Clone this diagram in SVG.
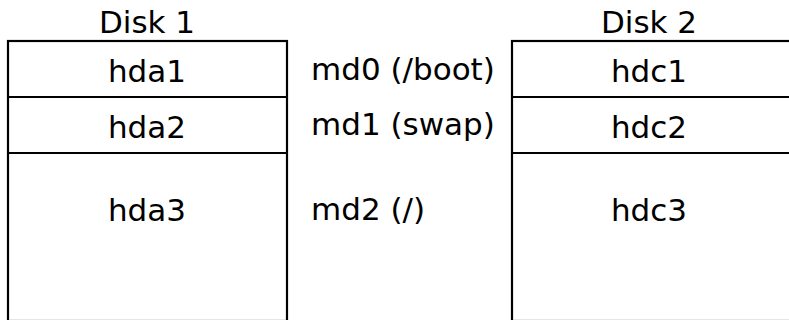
<svg xmlns="http://www.w3.org/2000/svg" width="789" height="320" viewBox="0 0 789 320">
<style>
.box{fill:#fff;stroke:#000;stroke-width:2.2}
.ln{stroke:#000;stroke-width:2.2;fill:none}
text{font-family:"DejaVu Sans",sans-serif;font-size:31px;fill:#000}
.c{text-anchor:middle}
</style>
<rect width="789" height="320" fill="#fff"/>
<g id="disk1">
<text class="c" x="147" y="33">Disk 1</text>
<rect class="box" x="8" y="41" width="279" height="280"/>
<line class="ln" x1="8" y1="97" x2="287" y2="97"/>
<line class="ln" x1="8" y1="153" x2="287" y2="153"/>
<text class="c" x="147" y="82">hda1</text>
<text class="c" x="147" y="138">hda2</text>
<text class="c" x="147" y="221">hda3</text>
</g>
<g id="disk2">
<text class="c" x="649" y="33">Disk 2</text>
<rect class="box" x="512" y="41" width="279" height="280"/>
<line class="ln" x1="512" y1="97" x2="791" y2="97"/>
<line class="ln" x1="512" y1="153" x2="791" y2="153"/>
<text class="c" x="649" y="82">hdc1</text>
<text class="c" x="649" y="138">hdc2</text>
<text class="c" x="649" y="221">hdc3</text>
</g>
<g id="labels">
<text x="311" y="80">md0 (/boot)</text>
<text x="311" y="135">md1 (swap)</text>
<text x="311" y="220">md2 (/)</text>
</g>
</svg>
